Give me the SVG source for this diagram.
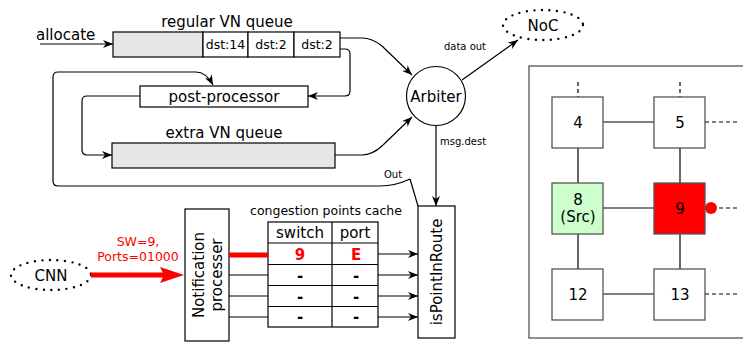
<svg xmlns="http://www.w3.org/2000/svg" width="743" height="344" viewBox="0 0 743 344">
  <defs>
    <marker id="arr" viewBox="0 0 10 8" refX="10" refY="4" markerWidth="10" markerHeight="8" markerUnits="userSpaceOnUse" orient="auto">
      <path d="M0,0 L10,4 L0,8 L3,4 z" fill="#000"/>
    </marker>
  </defs>
  <style>
    text { font-family: "DejaVu Sans", Verdana, sans-serif; fill: #000; }
    .box { fill: #fff; stroke: #000; stroke-width: 1.2; }
    .q { fill: #e6e6e6; stroke: #000; stroke-width: 1.2; }
    .wire { fill: none; stroke: #000; stroke-width: 1.2; }
    .arrow { fill: none; stroke: #000; stroke-width: 1.2; marker-end: url(#arr); }
    .dots { fill: none; stroke: #000; stroke-width: 2.4; stroke-linecap: round; stroke-dasharray: 0 7.5; }
    .node { fill: #fff; stroke: #555; stroke-width: 1.3; }
    .link { stroke: #000; stroke-width: 1.2; }
    .stub { stroke: #000; stroke-width: 1.2; stroke-dasharray: 4 3; }
    .lg { font-size: 15px; }
    .md { font-size: 12.5px; }
    .sm { font-size: 10px; }
    .red { fill: #ff0000; }
  </style>

  <!-- queues and processing stages -->
  <g id="regular-queue">
    <text class="lg" x="227" y="27" text-anchor="middle">regular VN queue</text>
    <rect class="q" x="113" y="32" width="90" height="25"/>
    <rect class="box" x="203" y="32" width="45" height="25"/>
    <rect class="box" x="248" y="32" width="46" height="25"/>
    <rect class="box" x="294" y="32" width="46" height="25"/>
    <text class="md" x="225.5" y="49" text-anchor="middle">dst:14</text>
    <text class="md" x="271" y="49" text-anchor="middle">dst:2</text>
    <text class="md" x="317" y="49" text-anchor="middle">dst:2</text>
  </g>
  <g id="allocate">
    <text class="lg" x="36" y="40">allocate</text>
  </g>
  <g id="post-processor">
    <rect class="box" x="140" y="86" width="168" height="21"/>
    <text class="lg" x="224" y="102" text-anchor="middle">post-processor</text>
  </g>
  <g id="extra-queue">
    <text class="lg" x="224" y="138" text-anchor="middle">extra VN queue</text>
    <rect class="q" x="112" y="143" width="223" height="25"/>
  </g>
  <g id="arbiter">
    <circle cx="436" cy="96" r="29.5" fill="#fff" stroke="#000" stroke-width="1.2"/>
    <text class="lg" x="436" y="101.5" text-anchor="middle">Arbiter</text>
  </g>
  <g id="noc">
    <ellipse class="dots" cx="543" cy="25" rx="40" ry="15"/>
    <text class="lg" x="543" y="31" text-anchor="middle">NoC</text>
  </g>
  <g id="cnn">
    <ellipse class="dots" cx="51" cy="275" rx="40" ry="15"/>
    <text class="lg" x="51" y="281" text-anchor="middle">CNN</text>
  </g>
  <g id="notification-processer">
    <rect class="box" x="185" y="209" width="44" height="132"/>
    <text class="lg" transform="translate(207,275) rotate(-90)" text-anchor="middle"><tspan x="0" y="-3">Notification</tspan><tspan x="0" y="15">processer</tspan></text>
  </g>
  <g id="congestion-cache">
    <text class="md" x="326" y="215" text-anchor="middle">congestion points cache</text>
    <rect class="box" x="268" y="222" width="110" height="105"/>
    <line class="link" x1="332" y1="222" x2="332" y2="327"/>
    <line class="link" x1="268" y1="243" x2="378" y2="243"/>
    <line class="link" x1="268" y1="264.5" x2="378" y2="264.5"/>
    <line class="link" x1="268" y1="285.5" x2="378" y2="285.5"/>
    <line class="link" x1="268" y1="306.5" x2="378" y2="306.5"/>
    <text class="lg" x="300" y="238" text-anchor="middle">switch</text>
    <text class="lg" x="355" y="238" text-anchor="middle">port</text>
    <text class="lg red" x="300" y="259.5" text-anchor="middle" font-weight="bold">9</text>
    <text class="lg red" x="356" y="259.5" text-anchor="middle" font-weight="bold">E</text>
    <text class="lg" x="300" y="280.5" text-anchor="middle" font-weight="bold">-</text>
    <text class="lg" x="356" y="280.5" text-anchor="middle" font-weight="bold">-</text>
    <text class="lg" x="300" y="301.5" text-anchor="middle" font-weight="bold">-</text>
    <text class="lg" x="356" y="301.5" text-anchor="middle" font-weight="bold">-</text>
    <text class="lg" x="300" y="322" text-anchor="middle" font-weight="bold">-</text>
    <text class="lg" x="356" y="322" text-anchor="middle" font-weight="bold">-</text>
  </g>
  <g id="is-point-in-route">
    <rect class="box" x="418" y="206" width="37" height="132"/>
    <text class="lg" transform="translate(436.5,272) rotate(-90)" text-anchor="middle" y="5.5">isPointInRoute</text>
  </g>

  <!-- connectors -->
  <g id="connectors">
    <line class="arrow" x1="40" y1="44" x2="113" y2="44"/>
    <path class="arrow" d="M340,38 L362,38 Q372,38 382,46 L412,75"/>
    <path class="arrow" d="M340,49 L345,49 Q350,49 350,54 L350,91 Q350,96 345,96 L308,96"/>
    <path class="arrow" d="M140,96 L87,96 Q82,96 82,101 L82,150 Q82,155 87,155 L112,155"/>
    <path class="arrow" d="M335,155 L362,155 Q372,155 382,146 L412,117"/>
    <path class="arrow" d="M410,179 Q395,186 380,186 L58,186 Q53,186 53,181 L53,77 Q53,72 58,72 L196,72 Q206,72 213,85"/>
    <path class="wire" d="M410,179 L418,206"/>
    <path class="arrow" d="M462,80 L518,40"/>
    <text class="sm" x="465" y="50" text-anchor="middle">data out</text>
    <line class="arrow" x1="436" y1="125.5" x2="436" y2="206"/>
    <text class="sm" x="463" y="145" text-anchor="middle">msg.dest</text>
    <text class="sm" x="393" y="178" text-anchor="middle">Out</text>
    <!-- congestion notification -->
    <line x1="91" y1="275" x2="166" y2="275" stroke="#ff0000" stroke-width="5"/>
    <polygon points="160,267 184,275 160,283 164,275" fill="#ff0000"/>
    <text class="md red" x="138" y="246" text-anchor="middle" font-size="13">SW=9,</text>
    <text class="md red" x="138" y="261" text-anchor="middle" font-size="13">Ports=01000</text>
    <line x1="229" y1="255" x2="268" y2="255" stroke="#ff0000" stroke-width="5"/>
    <line class="link" x1="229" y1="275" x2="268" y2="275"/>
    <line class="link" x1="229" y1="296" x2="268" y2="296"/>
    <line class="link" x1="229" y1="317" x2="268" y2="317"/>
    <line class="arrow" x1="378" y1="254" x2="418" y2="254"/>
    <line class="arrow" x1="378" y1="275" x2="418" y2="275"/>
    <line class="arrow" x1="378" y1="296" x2="418" y2="296"/>
    <line class="arrow" x1="378" y1="317" x2="418" y2="317"/>
  </g>

  <!-- mesh excerpt -->
  <g id="mesh">
    <rect x="529" y="66" width="230" height="272" fill="none" stroke="#555" stroke-width="1.3"/>
    <line class="stub" x1="578" y1="82" x2="578" y2="97"/>
    <line class="stub" x1="680" y1="82" x2="680" y2="97"/>
    <line class="stub" x1="705" y1="122" x2="737" y2="122"/>
    <line class="stub" x1="705" y1="208" x2="737" y2="208"/>
    <line class="stub" x1="705" y1="294" x2="737" y2="294"/>
    <line class="link" x1="603" y1="122" x2="654" y2="122"/>
    <line class="link" x1="603" y1="208" x2="654" y2="208"/>
    <line class="link" x1="603" y1="294" x2="654" y2="294"/>
    <line class="link" x1="578" y1="148" x2="578" y2="183"/>
    <line class="link" x1="578" y1="234" x2="578" y2="269"/>
    <line class="link" x1="680" y1="148" x2="680" y2="183"/>
    <line class="link" x1="680" y1="234" x2="680" y2="269"/>
  </g>
  <g id="node-4">
    <rect class="node" x="552" y="97" width="51" height="51"/>
    <text class="lg" x="578" y="128" text-anchor="middle">4</text>
  </g>
  <g id="node-5">
    <rect class="node" x="654" y="97" width="51" height="51"/>
    <text class="lg" x="680" y="128" text-anchor="middle">5</text>
  </g>
  <g id="node-8">
    <rect class="node" x="552" y="183" width="51" height="51" fill="#ccffcc" style="fill:#ccffcc"/>
    <text class="lg" x="578" y="205" text-anchor="middle">8</text>
    <text class="lg" x="578" y="222" text-anchor="middle">(Src)</text>
  </g>
  <g id="node-9">
    <rect class="node" x="654" y="183" width="51" height="51" style="fill:#ff0000"/>
    <text class="lg" x="680" y="214" text-anchor="middle">9</text>
    <circle cx="711" cy="208" r="6" fill="#ff0000"/>
  </g>
  <g id="node-12">
    <rect class="node" x="552" y="269" width="51" height="51"/>
    <text class="lg" x="578" y="300" text-anchor="middle">12</text>
  </g>
  <g id="node-13">
    <rect class="node" x="654" y="269" width="51" height="51"/>
    <text class="lg" x="680" y="300" text-anchor="middle">13</text>
  </g>
</svg>
